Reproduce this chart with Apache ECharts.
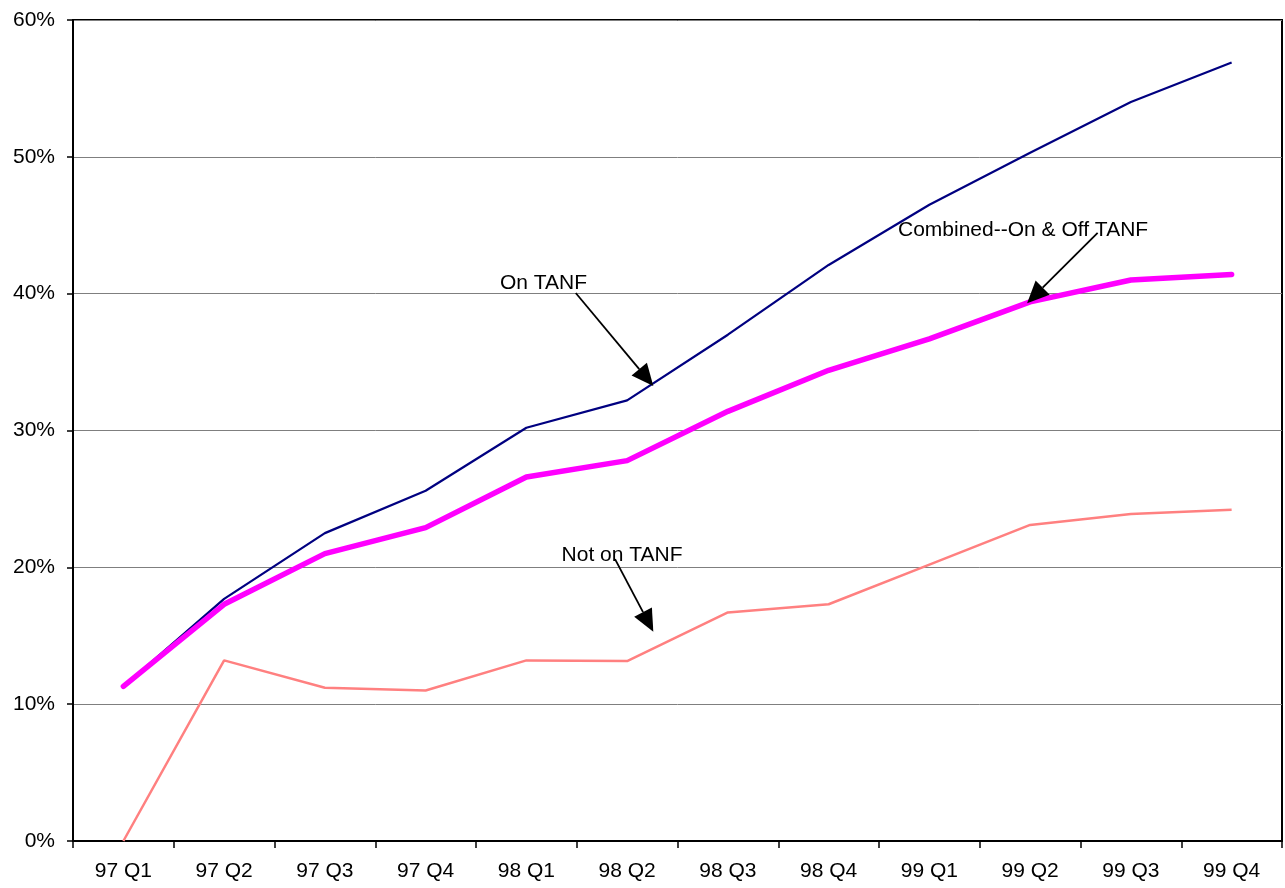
<!DOCTYPE html>
<html>
<head>
<meta charset="utf-8">
<title>TANF quarterly rates</title>
<script src="https://cdn.jsdelivr.net/npm/echarts@6/dist/echarts.min.js"></script>
<style>
  html, body { margin: 0; padding: 0; background: #fff; }
  #chart { width: 1285px; height: 888px; }
</style>
</head>
<body>
<div id="chart"></div>
<script>
// Quarters shown along the bottom axis
const categories = ['97 Q1', '97 Q2', '97 Q3', '97 Q4', '98 Q1', '98 Q2',
                    '98 Q3', '98 Q4', '99 Q1', '99 Q2', '99 Q3', '99 Q4'];

// Percent values per quarter
const onTanf    = [11.3, 17.7, 22.5, 25.6, 30.2, 32.2, 37.0, 42.1, 46.5, 50.3, 54.0, 56.9];
const combined  = [11.3, 17.3, 21.0, 22.9, 26.6, 27.8, 31.4, 34.4, 36.7, 39.4, 41.0, 41.4];
const notOnTanf = [0.0, 13.2, 11.2, 11.0, 13.2, 13.15, 16.7, 17.3, 20.2, 23.1, 23.9, 24.2];

// Value axis range (percent)
const yMin = 0, yMax = 60, yStep = 10;

// Callout labels: text anchor and arrow from/to, in (category index, percent)
const callouts = [
  { text: 'On TANF',                 at: [4.17, 40.8],  from: [4.49, 40.05], to: [5.26, 33.25] },
  { text: 'Combined--On & Off TANF', at: [8.93, 44.65], from: [9.67, 44.45], to: [8.97, 39.3] },
  { text: 'Not on TANF',             at: [4.95, 20.9],  from: [4.88, 20.6],  to: [5.26, 15.3] }
];

const FONT = '"Liberation Sans", Arial, sans-serif';
const FONT_SIZE = 21;

const chart = echarts.init(document.getElementById('chart'), null, { renderer: 'canvas' });

chart.setOption({
  animation: false,
  backgroundColor: '#ffffff',
  grid: {
    left: 73, right: 3, top: 20, bottom: 47,
    show: true, borderColor: '#000', borderWidth: 2, backgroundColor: 'transparent'
  },
  xAxis: {
    type: 'category',
    data: categories,
    boundaryGap: true,
    axisLine: { lineStyle: { color: '#000', width: 2 } },
    axisTick: { show: true, length: 7, lineStyle: { color: '#000', width: 1.5 } },
    axisLabel: { color: '#000', fontSize: FONT_SIZE, fontFamily: FONT, margin: 20 },
    splitLine: { show: false }
  },
  yAxis: {
    type: 'value',
    min: yMin, max: yMax, interval: yStep,
    axisLine: { show: true, lineStyle: { color: '#000', width: 2 } },
    axisTick: { show: true, length: 6, lineStyle: { color: '#000', width: 1.5 } },
    axisLabel: { color: '#000', fontSize: FONT_SIZE, fontFamily: FONT, margin: 18, formatter: '{value}%' },
    splitLine: { show: true, lineStyle: { color: '#7f7f7f', width: 1 } }
  },
  series: [
    {
      name: 'Not on TANF', type: 'line', data: notOnTanf, symbol: 'none',
      lineStyle: { color: '#ff8080', width: 2.5 }, z: 2
    },
    {
      name: 'On TANF', type: 'line', data: onTanf, symbol: 'none',
      lineStyle: { color: '#000080', width: 2.2 }, z: 3
    },
    {
      name: 'Combined--On & Off TANF', type: 'line', data: combined, symbol: 'none',
      lineStyle: { color: '#ff00ff', width: 5.5, cap: 'round', join: 'round' }, z: 4
    }
  ]
});

// Map (fractional category index, percent) to pixels through the chart's axes
function toPixel(pt) {
  const x0 = chart.convertToPixel({ xAxisIndex: 0 }, 0);
  const x1 = chart.convertToPixel({ xAxisIndex: 0 }, 1);
  const y = chart.convertToPixel({ yAxisIndex: 0 }, pt[1]);
  return [x0 + pt[0] * (x1 - x0), y];
}

const graphics = [];
callouts.forEach(function (c) {
  const p = toPixel(c.at);
  const a = toPixel(c.from);
  const b = toPixel(c.to);
  const dx = b[0] - a[0], dy = b[1] - a[1];
  const len = Math.sqrt(dx * dx + dy * dy);
  const ux = dx / len, uy = dy / len;
  const headLen = 22, headHalf = 10;
  const bx = b[0] - ux * headLen, by = b[1] - uy * headLen;
  graphics.push({
    type: 'line', z: 20,
    shape: { x1: a[0], y1: a[1], x2: bx, y2: by },
    style: { stroke: '#000', lineWidth: 1.8 }
  });
  graphics.push({
    type: 'polygon', z: 20,
    shape: { points: [[b[0], b[1]], [bx - uy * headHalf, by + ux * headHalf], [bx + uy * headHalf, by - ux * headHalf]] },
    style: { fill: '#000' }
  });
  graphics.push({
    type: 'text', z: 21,
    x: p[0], y: p[1],
    style: {
      text: c.text, fill: '#000', font: FONT_SIZE + 'px ' + FONT,
      align: 'center', verticalAlign: 'middle'
    }
  });
});

chart.setOption({ graphic: graphics });
</script>
</body>
</html>
